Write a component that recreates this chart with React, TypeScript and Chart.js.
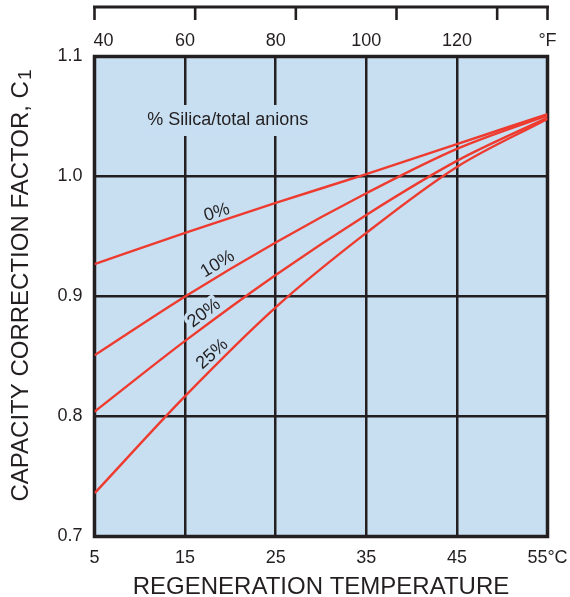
import React, { useEffect, useRef } from "react";
import { Chart, registerables } from "chart.js";

Chart.register(...registerables);

// ---- data ----
const temperaturesC = [5, 15, 25, 35, 45, 55];
const silica0 = [0.927, 0.953, 0.978, 1.002, 1.027, 1.052];
const silica10 = [0.851, 0.9, 0.945, 0.986, 1.023, 1.051];
const silica20 = [0.804, 0.863, 0.918, 0.968, 1.013, 1.049];
const silica25 = [0.736, 0.817, 0.891, 0.953, 1.008, 1.048];
const seriesNames = ["0%", "10%", "20%", "25%"];

const celsiusTicks = [5, 15, 25, 35, 45, 55];
const celsiusLabels = ["5", "15", "25", "35", "45", "55°C"];
const fahrenheitTicks = [41, 61, 81, 101, 121, 131];
const fahrenheitLabels = ["40", "60", "80", "100", "120", "°F"];
const fahrenheitLabelAtC = [6, 15, 25, 35, 45, 55];
const yTicks = [0.7, 0.8, 0.9, 1.0, 1.1];

// curve label anchors (data coords) and angles
const curveLabelX = [18.5, 18.6, 17.1, 18.0];
const curveLabelY = [0.97, 0.927, 0.886, 0.852];
const curveLabelAngle = [-18, -31, -37, -42];
const legendTitle = "% Silica/total anions";
const yTitleMain = "CAPACITY CORRECTION FACTOR, C";
const yTitleSub = "1";

const FONT = "'Liberation Sans', Arial, Helvetica, sans-serif";
const TEXT = "#231f20";
const GRID = "#231f20";
const BG = "#c8dff2";
const RED = "#ee3b2f";

const fToC = (f: number) => ((f - 32) * 5) / 9;

const decorPlugin = {
  id: "decor",
  beforeDraw(chart: any) {
    const { ctx, chartArea: a } = chart;
    ctx.save();
    ctx.fillStyle = BG;
    ctx.fillRect(a.left, a.top, a.right - a.left, a.bottom - a.top);
    ctx.restore();
  },
  beforeDatasetsDraw(chart: any) {
    const { ctx, chartArea: a } = chart;
    const xs = chart.scales.x;
    const ys = chart.scales.y;
    ctx.save();
    // frame
    ctx.strokeStyle = GRID;
    ctx.lineWidth = 3.5;
    ctx.strokeRect(a.left, a.top, a.right - a.left, a.bottom - a.top);

    // legend title box
    ctx.font = `18px ${FONT}`;
    ctx.textAlign = "center";
    ctx.textBaseline = "middle";
    const tx = xs.getPixelForValue(19.7);
    const ty = ys.getPixelForValue(1.0471);
    const tw = ctx.measureText(legendTitle).width;
    ctx.fillStyle = BG;
    ctx.fillRect(tx - tw / 2 - 8, ty - 15, tw + 16, 31);
    ctx.fillStyle = TEXT;
    ctx.fillText(legendTitle, tx, ty);

    // curve labels with halo
    seriesNames.forEach((name, i) => {
      const px = xs.getPixelForValue(curveLabelX[i]);
      const py = ys.getPixelForValue(curveLabelY[i]);
      ctx.save();
      ctx.translate(px, py);
      ctx.rotate((curveLabelAngle[i] * Math.PI) / 180);
      ctx.font = `18px ${FONT}`;
      ctx.textAlign = "center";
      ctx.textBaseline = "middle";
      ctx.lineJoin = "round";
      ctx.strokeStyle = BG;
      ctx.lineWidth = 7;
      ctx.strokeText(name, 0, 0);
      ctx.fillStyle = TEXT;
      ctx.fillText(name, 0, 0);
      ctx.restore();
    });
    ctx.restore();
  },
  afterDraw(chart: any) {
    const { ctx } = chart;
    const xs = chart.scales.x;
    const left = xs.getPixelForValue(fToC(fahrenheitTicks[0]));
    const right = xs.getPixelForValue(fToC(fahrenheitTicks[fahrenheitTicks.length - 1]));
    ctx.save();
    ctx.strokeStyle = GRID;
    ctx.lineWidth = 3;
    ctx.beginPath();
    ctx.moveTo(left - 1.5, 7);
    ctx.lineTo(right + 1.5, 7);
    ctx.stroke();
    ctx.lineWidth = 2.6;
    fahrenheitTicks.forEach((f) => {
      const px = xs.getPixelForValue(fToC(f));
      ctx.beginPath();
      ctx.moveTo(px, 7);
      ctx.lineTo(px, 20);
      ctx.stroke();
    });

    // y-axis title with subscript
    ctx.translate(21, 286);
    ctx.rotate(-Math.PI / 2);
    ctx.fillStyle = TEXT;
    ctx.textBaseline = "middle";
    ctx.font = `24px ${FONT}`;
    const mw = ctx.measureText(yTitleMain).width;
    ctx.font = `19px ${FONT}`;
    const sw = ctx.measureText(yTitleSub).width;
    const start = -(mw + sw) / 2;
    ctx.font = `24px ${FONT}`;
    ctx.textAlign = "left";
    ctx.fillText(yTitleMain, start, 0);
    ctx.font = `19px ${FONT}`;
    ctx.fillText(yTitleSub, start + mw + 1, 5);
    ctx.restore();
  },
};

export default function App() {
  const ref = useRef<HTMLCanvasElement>(null);
  useEffect(() => {
    if (!ref.current) return;
    const series = [silica0, silica10, silica20, silica25];
    const chart = new Chart(ref.current, {
      type: "line",
      data: {
        datasets: series.map((vals, i) => ({
          label: seriesNames[i],
          data: temperaturesC.map((t, j) => ({ x: t, y: vals[j] })),
          borderColor: RED,
          borderWidth: 2.4,
          pointRadius: 0,
          fill: false,
          cubicInterpolationMode: "monotone" as const,
        })),
      },
      options: {
        responsive: false,
        animation: false,
        devicePixelRatio: 1,
        layout: { padding: { left: 0, right: 22.5, top: 0, bottom: 0 } },
        plugins: { legend: { display: false }, tooltip: { enabled: false } },
        scales: {
          x: {
            type: "linear",
            position: "bottom",
            min: 5,
            max: 55,
            afterBuildTicks: (s: any) => {
              s.ticks = celsiusTicks.map((v) => ({ value: v }));
            },
            afterFit: (s: any) => {
              s.height = 60.5;
              s.paddingLeft = 0;
              s.paddingRight = 0;
            },
            ticks: {
              autoSkip: false,
              maxRotation: 0,
              padding: 11,
              color: TEXT,
              font: { family: FONT, size: 18 },
              callback: (_v: any, i: number) => celsiusLabels[i],
            },
            grid: { color: GRID, lineWidth: 2.5, drawTicks: false },
            border: { display: false },
            title: {
              display: true,
              text: "REGENERATION TEMPERATURE",
              color: TEXT,
              font: { family: FONT, size: 24, lineHeight: 0.8 },
              padding: { top: 0, bottom: 0 },
            },
          },
          xTop: {
            type: "linear",
            position: "top",
            min: 5,
            max: 55,
            afterBuildTicks: (s: any) => {
              s.ticks = fahrenheitLabelAtC.map((v) => ({ value: v }));
            },
            afterFit: (s: any) => {
              s.height = 56.5;
              s.paddingLeft = 0;
              s.paddingRight = 0;
            },
            ticks: {
              autoSkip: false,
              maxRotation: 0,
              padding: 5,
              color: TEXT,
              font: { family: FONT, size: 18 },
              callback: (_v: any, i: number) => fahrenheitLabels[i],
            },
            grid: { display: false, drawTicks: false },
            border: { display: false },
          },
          y: {
            type: "linear",
            min: 0.7,
            max: 1.1,
            afterBuildTicks: (s: any) => {
              s.ticks = yTicks.map((v) => ({ value: v }));
            },
            afterFit: (s: any) => {
              s.width = 94.5;
              s.paddingTop = 0;
              s.paddingBottom = 0;
            },
            ticks: {
              padding: 12,
              color: TEXT,
              font: { family: FONT, size: 18 },
              callback: (v: any) => Number(v).toFixed(1),
            },
            grid: { color: GRID, lineWidth: 2.5, drawTicks: false },
            border: { display: false },
          },
        },
      },
      plugins: [decorPlugin],
    } as any);
    return () => chart.destroy();
  }, []);
  return (
    <div style={{ position: "absolute", left: 0, top: 0, width: 570, height: 597, background: "#fff" }}>
      <canvas ref={ref} width={570} height={597} style={{ display: "block" }} />
    </div>
  );
}
